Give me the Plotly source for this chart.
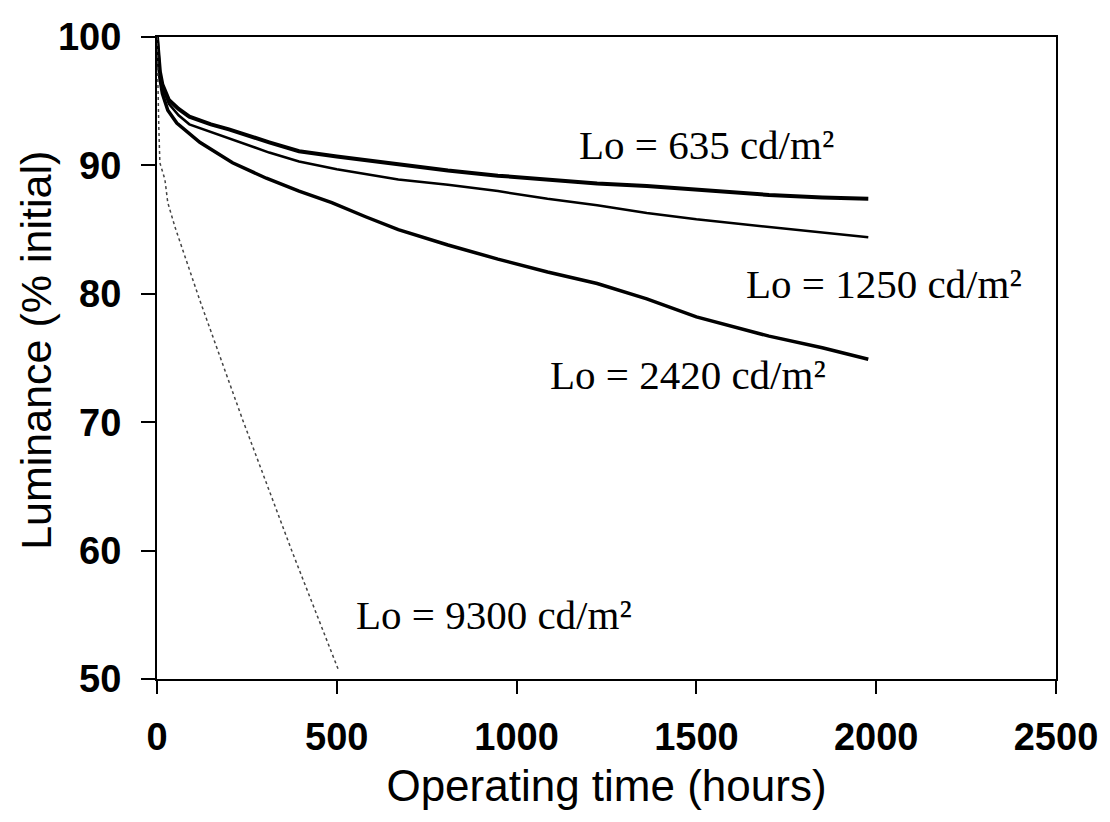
import plotly.graph_objects as go

# Operating time (hours) and luminance (% of initial)
t_635 = [0, 3, 8, 15, 33, 60, 90, 150, 200, 312, 395, 500, 671, 809, 948, 1086, 1224, 1362, 1500, 1702, 1850, 1978]
l_635 = [100, 98.6, 97.3, 96.3, 95.1, 94.4, 93.8, 93.2, 92.8, 91.8, 91.1, 90.7, 90.1, 89.6, 89.2, 88.9, 88.6, 88.4, 88.1, 87.7, 87.5, 87.4]

t_1250 = [0, 3, 8, 15, 33, 60, 90, 150, 200, 312, 395, 500, 671, 809, 948, 1086, 1224, 1362, 1500, 1702, 1850, 1978]
l_1250 = [100, 98.5, 97.1, 96.1, 94.8, 93.9, 93.2, 92.6, 92.1, 91.0, 90.3, 89.7, 88.9, 88.5, 88.0, 87.4, 86.9, 86.3, 85.8, 85.2, 84.8, 84.4]

t_2420 = [0, 3, 8, 15, 30, 55, 119, 210, 304, 395, 486, 580, 671, 809, 948, 1086, 1224, 1362, 1500, 1702, 1850, 1978]
l_2420 = [100, 98.3, 96.8, 95.6, 94.3, 93.3, 91.8, 90.2, 89.0, 88.0, 87.1, 86.0, 85.0, 83.8, 82.7, 81.7, 80.8, 79.6, 78.2, 76.7, 75.8, 74.9]

t_9300 = [0, 2, 5, 8, 22, 30, 50, 119, 238, 376, 506]
l_9300 = [100, 96.5, 93.0, 90.2, 88.9, 87.1, 85.2, 79.5, 70.2, 59.9, 50.6]

labels = ["Lo = 635 cd/m²", "Lo = 1250 cd/m²", "Lo = 2420 cd/m²", "Lo = 9300 cd/m²"]
label_x = [1169, 1633, 1086, 547]
label_y = [91.6, 80.8, 73.7, 55.0]

x_ticks = [0, 500, 1000, 1500, 2000, 2500]
y_ticks = [50, 60, 70, 80, 90, 100]

fig = go.Figure()
fig.add_trace(go.Scatter(x=t_635, y=l_635, mode="lines", line=dict(color="black", width=4), name="635"))
fig.add_trace(go.Scatter(x=t_1250, y=l_1250, mode="lines", line=dict(color="black", width=2.5), name="1250"))
fig.add_trace(go.Scatter(x=t_2420, y=l_2420, mode="lines", line=dict(color="black", width=3.5), name="2420"))
fig.add_trace(go.Scatter(x=t_9300, y=l_9300, mode="lines", line=dict(color="#444444", width=1.5, dash="dot"), name="9300"))

for txt, xx, yy in zip(labels, label_x, label_y):
    fig.add_annotation(x=xx, y=yy, text=txt, showarrow=False, xanchor="left", yanchor="middle",
                       font=dict(family="Liberation Serif, Times New Roman, serif", size=41, color="black"))

sans = "Liberation Sans, Arial, sans-serif"

# y-axis title placed as rotated text left of the tick labels
fig.add_annotation(xref="paper", yref="paper", x=-0.134, y=0.512, text="Luminance (% initial)",
                   textangle=-90, showarrow=False, xanchor="center", yanchor="middle",
                   font=dict(family=sans, size=43, color="black"))

fig.update_layout(
    width=1110, height=822,
    margin=dict(l=157, r=48, t=37, b=143),
    paper_bgcolor="white", plot_bgcolor="white",
    showlegend=False,
    font=dict(family=sans, size=40, color="black"),
)
fig.update_xaxes(
    range=[0, 2500], tickvals=x_ticks, ticktext=[f"<b>{v}</b>" for v in x_ticks],
    ticks="outside", ticklen=13, tickwidth=2, tickcolor="black",
    showline=True, linecolor="black", linewidth=2, mirror=True,
    showgrid=False, zeroline=False, ticklabelstandoff=10,
    tickfont=dict(family=sans, size=38, color="black"),
    title=dict(text="Operating time (hours)", font=dict(family=sans, size=44), standoff=14),
)
fig.update_yaxes(
    range=[50, 100], tickvals=y_ticks, ticktext=[f"<b>{v}</b>" for v in y_ticks],
    ticks="outside", ticklen=14, tickwidth=2, tickcolor="black",
    showline=True, linecolor="black", linewidth=2, mirror=True,
    showgrid=False, zeroline=False, ticklabelstandoff=12,
    tickfont=dict(family=sans, size=38, color="black"),
)

fig.write_html("out.html")
